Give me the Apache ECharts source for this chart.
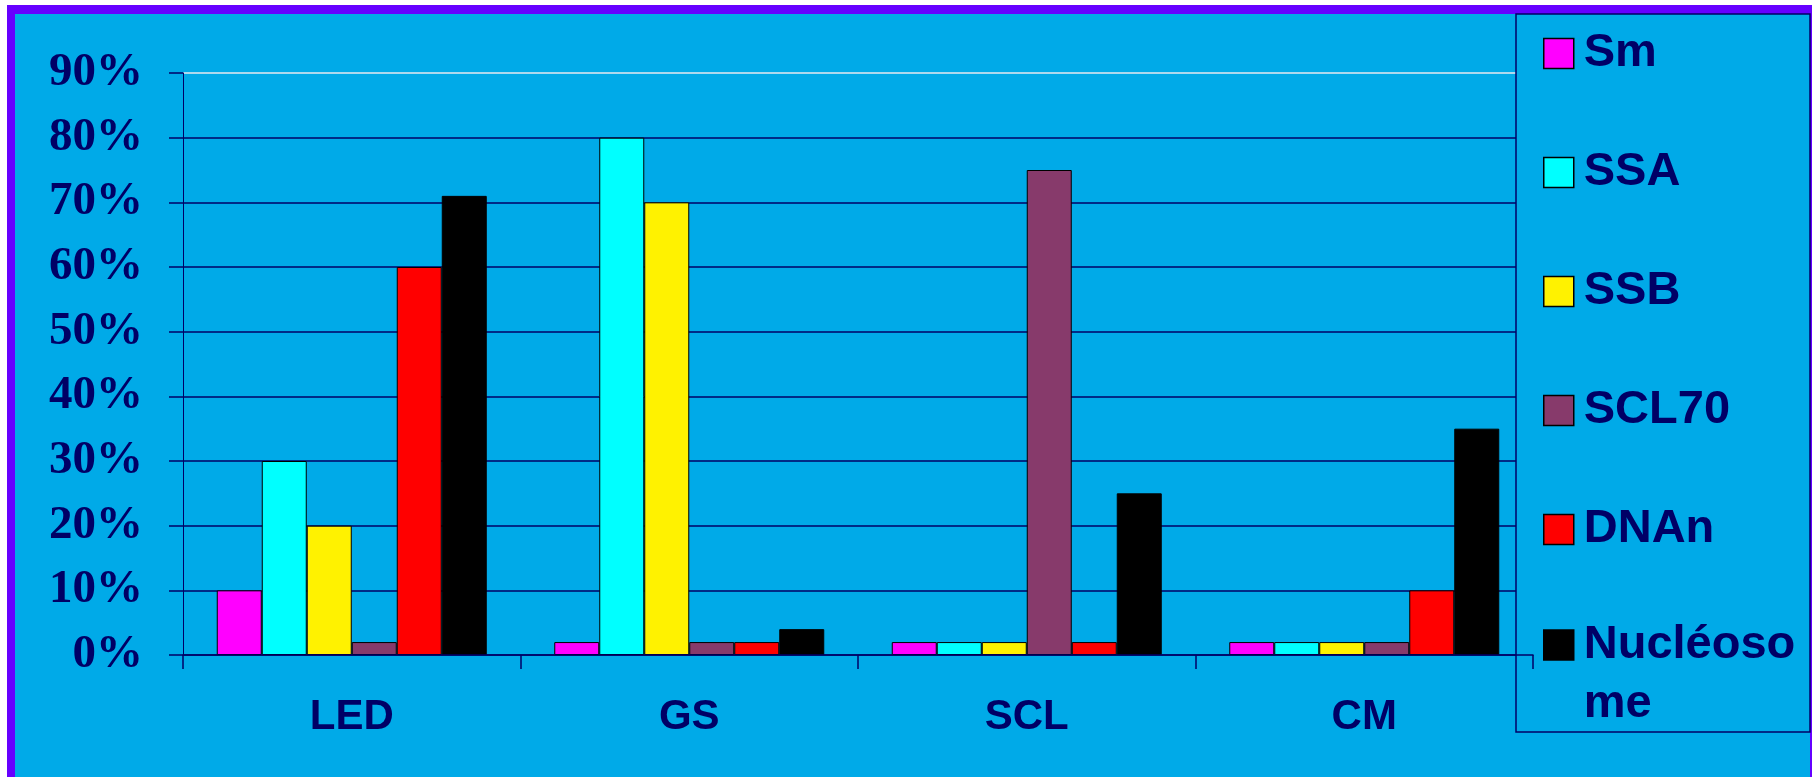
<!DOCTYPE html>
<html>
<head>
<meta charset="utf-8">
<script src="https://cdn.jsdelivr.net/npm/echarts@6/dist/echarts.min.js"></script>
<style>
  html, body { margin: 0; padding: 0; background: #ffffff; }
  #frame {
    position: absolute; left: 7px; top: 5px; width: 1805px; height: 772px;
    box-sizing: border-box; background: #00aae8;
    border-top: 9px solid #6600ff; border-left: 8px solid #6600ff; border-right: 2px solid #6600ff;
  }
  #chart { position: absolute; left: 0; top: 0; width: 1812px; height: 777px; }
</style>
</head>
<body>
<div id="frame"></div>
<div id="chart"></div>
<script>
// values in percent, one array per antibody
const categories = ["LED", "GS", "SCL", "CM"];
const sm = [10, 2, 2, 2];
const ssa = [30, 80, 2, 2];
const ssb = [20, 70, 2, 2];
const scl70 = [2, 2, 75, 2];
const dnan = [60, 2, 2, 10];
const nucleosome = [71, 4, 25, 35];
const yTicks = [0, 10, 20, 30, 40, 50, 60, 70, 80, 90];

const BG = "#00aae8";
const NAVY = "#000066";
const SANS = "Arial, 'Liberation Sans', sans-serif";
const SERIF = "'Times New Roman', 'Liberation Serif', serif";

const seriesDefs = [
  { name: "Sm", data: sm, color: "#ff00ff" },
  { name: "SSA", data: ssa, color: "#00ffff" },
  { name: "SSB", data: ssb, color: "#fff200" },
  { name: "SCL70", data: scl70, color: "#873a6b" },
  { name: "DNAn", data: dnan, color: "#ff0000" },
  { name: "Nucléosome", data: nucleosome, color: "#000000" },
];

// top gridline (90%) is light, the others navy
const gridColors = yTicks.map((v, i) => (i === yTicks.length - 1 ? "#e8e8f0" : NAVY));

const legendText = {
  color: NAVY,
  fontFamily: SANS,
  fontWeight: "bold",
  fontSize: 47,
  lineHeight: 53,
  padding: [0, 0, 0, 5],
};

const chart = echarts.init(document.getElementById("chart"), null, { renderer: "canvas" });

chart.setOption({
  animation: false,
  backgroundColor: "transparent",
  grid: { left: 183, right: 279, top: 73, bottom: 122 },
  graphic: [
    {
      type: "rect",
      z: 1,
      shape: { x: 1516, y: 14, width: 294, height: 718 },
      style: { fill: BG, stroke: NAVY, lineWidth: 1.5 },
      silent: true,
    },
  ],
  legend: [
    {
      orient: "vertical",
      left: 1543,
      top: 27,
      padding: 0,
      itemGap: 66,
      itemWidth: 30,
      itemHeight: 30,
      icon: "rect",
      selectedMode: false,
      data: seriesDefs.slice(0, 5).map((s) => s.name),
      itemStyle: { borderColor: "#000", borderWidth: 1.5 },
      textStyle: legendText,
    },
    {
      orient: "vertical",
      left: 1543,
      top: 556.5,
      padding: 0,
      itemWidth: 30,
      itemHeight: 30,
      icon: "rect",
      selectedMode: false,
      data: [seriesDefs[5].name],
      itemStyle: { borderColor: "#000", borderWidth: 1.5 },
      // leading blank line keeps the marker level with the first text line
      formatter: (name) => "\n" + name,
      textStyle: Object.assign({}, legendText, { lineHeight: 59, width: 246, overflow: "breakAll" }),
    },
  ],
  xAxis: {
    type: "category",
    data: categories,
    z: 3,
    axisLine: { lineStyle: { color: NAVY, width: 1.5 } },
    axisTick: { show: true, length: 14, lineStyle: { color: NAVY, width: 1.5 } },
    axisLabel: {
      color: NAVY,
      fontFamily: SANS,
      fontWeight: "bold",
      fontSize: 42,
      margin: 41,
    },
    splitLine: { show: false },
  },
  yAxis: {
    type: "value",
    min: 0,
    max: 90,
    interval: 10,
    z: 0,
    axisLine: { show: true, lineStyle: { color: NAVY, width: 1 } },
    axisTick: { show: true, length: 14, lineStyle: { color: NAVY, width: 1.5 } },
    axisLabel: {
      formatter: "{value}%",
      color: NAVY,
      fontFamily: SERIF,
      fontWeight: "bold",
      fontSize: 47,
      margin: 40,
    },
    splitLine: { show: true, lineStyle: { color: gridColors, width: 1.5 } },
  },
  series: seriesDefs.map((s) => ({
    name: s.name,
    type: "bar",
    data: s.data,
    barGap: "0%",
    barCategoryGap: "20%",
    itemStyle: { color: s.color, borderColor: "#000", borderWidth: 1 },
    emphasis: { disabled: true },
  })),
});
</script>
</body>
</html>
